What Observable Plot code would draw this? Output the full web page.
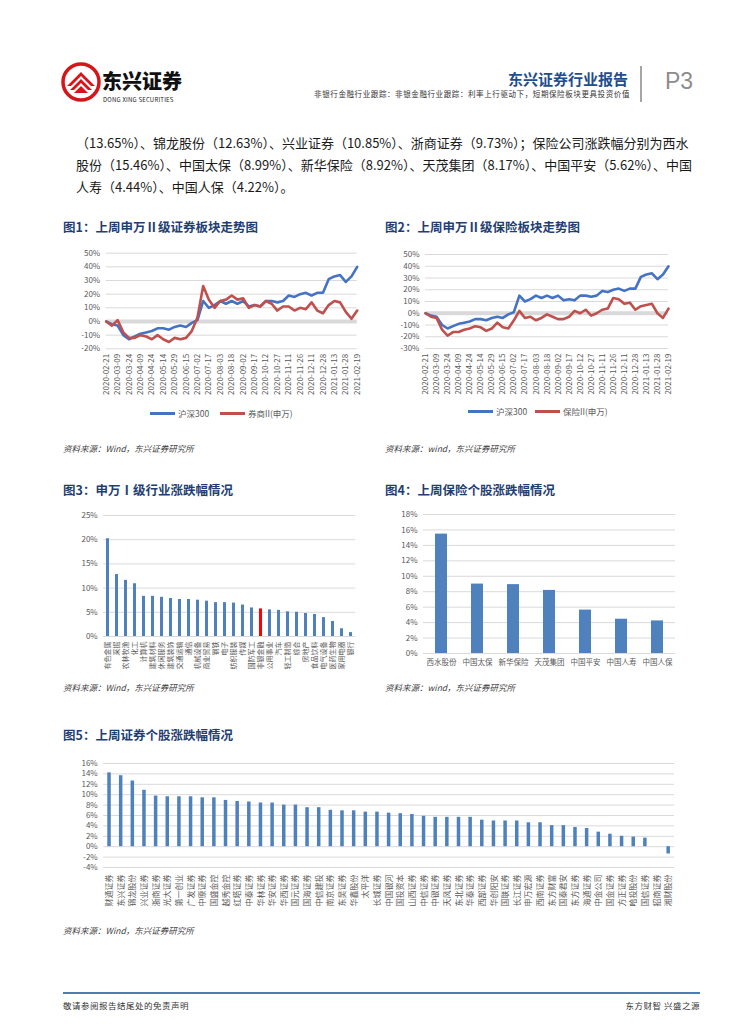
<!DOCTYPE html>
<html><head><meta charset="utf-8">
<script src="https://cdn.jsdelivr.net/npm/d3@7"></script>
<script src="https://cdn.jsdelivr.net/npm/@observablehq/plot@0.6"></script>
<style>
html,body{margin:0;padding:0;background:#fff;}
#page{position:relative;width:755px;height:1024px;overflow:hidden;font-family:"Noto Sans CJK SC","Noto Sans",sans-serif;}
.abs{position:absolute;white-space:nowrap;}
.ctitle{font-size:12.5px;font-weight:700;color:#1F3F73;}
.src{font-size:8.5px;font-style:italic;color:#404040;}
.body{font-size:13px;color:#1a1a1a;width:612px;left:76px;text-align:justify;text-align-last:justify;}
.leg{font-size:8.5px;color:#595959;display:flex;align-items:center;}
.leg span.l{display:inline-block;width:25px;height:3px;margin-right:3px;}
</style></head>
<body><div id="page"></div>
<script>
// ---------- data ----------
const dateLabels = ["2020-02-21","2020-03-09","2020-03-24","2020-04-09","2020-04-24","2020-05-14","2020-05-29","2020-06-15","2020-07-02","2020-07-17","2020-08-03","2020-08-18","2020-09-02","2020-09-17","2020-10-12","2020-10-27","2020-11-11","2020-11-26","2020-12-11","2020-12-28","2021-01-13","2021-01-28","2021-02-19"];
// readings every half label interval (5.5 trading days), in %
const hs300 = [0,-2,-3,-10,-13,-11,-9,-8,-7,-5,-5,-6,-4,-3,-4,-1,1,15,10,12,15,13,15,13,15,11,12,11,15,15,14,15,19,18,20,21,19,21,21,31,33,34,29,33,40];
const brokerII = [0,-3,1,-8,-12,-12,-10,-11,-13,-10,-13,-15,-12,-13,-12,-7,3,26,16,10,15,16,19,16,17,10,12,11,15,13,8,11,11,8,10,9,14,8,6,12,15,14,7,2,8];
const insuranceII = [0,-3,-4,-14,-19,-16,-16,-14,-13,-11,-12,-15,-13,-8,-12,-13,-6,2,-4,-3,-6,-4,-1,-3,-5,-5,-3,2,0,3,-2,0,3,4,13,12,8,9,3,6,7,8,0,-4,4];

const industries = ["有色金属","采掘","农林牧渔","化工","计算机","建筑材料","休闲服务","建筑装饰","交通运输","通信","机械设备","商业贸易","钢铁","电子","纺织服装","传媒","国防军工","非银金融","公用事业","汽车","轻工制造","综合","房地产","食品饮料","电气设备","医药生物","家用电器","银行"];
const industryChg = [20.2,12.8,11.6,10.9,8.3,8.3,8.1,7.85,7.65,7.65,7.5,7.3,7.0,7.0,6.9,6.5,5.9,5.7,5.5,5.4,5.1,5.0,4.75,4.55,3.9,3.1,1.6,0.8];

const insurers = ["西水股份","中国太保","新华保险","天茂集团","中国平安","中国人寿","中国人保"];
const insurerChg = [15.46,8.99,8.92,8.17,5.62,4.44,4.22];

const brokers = ["财通证券","东兴证券","锦龙股份","兴业证券","浙商证券","光大证券","第一创业","广发证券","中原证券","国盛金控","越秀金控","红塔证券","中泰证券","华林证券","华安证券","华西证券","国元证券","国海证券","中信建投","南京证券","东吴证券","华鑫股份","太平洋","长城证券","中国银河","国投资本","山西证券","中信证券","中银证券","天风证券","东北证券","华泰证券","西部证券","华创阳安","国联证券","长江证券","申万宏源","西南证券","东方财富","国泰君安","东方证券","海通证券","中金公司","国金证券","方正证券","哈投股份","国信证券","招商证券","湘财股份"];
const brokerChg = [14.2,13.65,12.63,10.85,9.73,9.6,9.6,9.6,9.4,9.4,8.9,8.7,8.6,8.4,8.4,8.0,8.0,7.5,7.5,7.0,6.9,6.9,6.65,6.65,6.45,6.35,6.2,5.85,5.65,5.65,5.65,5.65,5.1,4.95,4.95,4.95,4.6,4.6,4.05,4.05,3.7,3.5,2.8,2.4,2.0,1.85,1.65,0,-1.4];

// ---------- helpers ----------
const page = document.getElementById("page");
const FONT = '"Noto Sans CJK SC","Noto Sans",sans-serif';
const BLUE = "#4472C4", RED = "#C0504D", BAR = "#4F81BD", GRID = "#D9D9D9";
function put(node, left, top){ node.style.position="absolute"; node.style.left=left+"px"; node.style.top=top+"px"; page.appendChild(node); return node; }
function div(html, cls, left, top, extra){ const d=document.createElement("div"); d.className="abs "+(cls||""); d.innerHTML=html; if(extra) Object.assign(d.style, extra); return put(d,left,top); }
const pct = d => d + "%";
const range = (a,b,s) => d3.range(a, b + s/2, s);

// ---------- header ----------
div(`<svg width="40" height="40" viewBox="0 0 40 40">
<circle cx="20" cy="20" r="18" fill="none" stroke="#D7141A" stroke-width="3.5"/>
<path d="M6 24 L20 10 L34 24 L30 24 L20 14 L10 24 Z" fill="#D7141A"/>
<path d="M9 28 L20 17 L31 28 L27 28 L20 21 L13 28 Z" fill="#D7141A"/>
<path d="M13 31 L20 24 L27 31 Z" fill="#D7141A"/></svg>`, "", 61, 62);
div("东兴证券", "", 102, 70, {fontSize:"20px", lineHeight:"21px", fontWeight:"900", color:"#111"});
div("DONG XING SECURITIES", "", 103, 96, {fontSize:"6px", lineHeight:"7px", color:"#222", letterSpacing:"0.2px"});
div("东兴证券行业报告", "", 0, 68, {fontSize:"15px", fontWeight:"700", color:"#1F4E8C", width:"628px", textAlign:"right"});
div("非银行金融行业跟踪：非银金融行业跟踪：利率上行驱动下，短期保险板块更具投资价值", "", 0, 88, {fontSize:"7.5px", color:"#333", width:"630px", textAlign:"right", letterSpacing:"0.6px"});
div("", "", 640, 66, {width:"2px", height:"36px", background:"#A6A6A6"});
div("P3", "", 665, 68, {fontSize:"23px", color:"#8C8C8C", fontFamily:'"Liberation Sans",Arial,sans-serif'});

// ---------- body text ----------
div("（13.65%）、锦龙股份（12.63%）、兴业证券（10.85%）、浙商证券（9.73%）；保险公司涨跌幅分别为西水", "body", 76, 133);
div("股份（15.46%）、中国太保（8.99%）、新华保险（8.92%）、天茂集团（8.17%）、中国平安（5.62%）、中国", "body", 76, 155);
div("人寿（4.44%）、中国人保（4.22%）。", "", 76, 177, {fontSize:"13px", color:"#1a1a1a"});

// ---------- titles & sources ----------
div("图1：上周申万Ⅱ级证券板块走势图", "ctitle", 63, 217);
div("图2：上周申万Ⅱ级保险板块走势图", "ctitle", 385, 217);
div("资料来源：Wind，东兴证券研究所", "src", 63, 442);
div("资料来源：wind，东兴证券研究所", "src", 385, 442);
div("图3：申万Ⅰ级行业涨跌幅情况", "ctitle", 63, 480);
div("图4：上周保险个股涨跌幅情况", "ctitle", 385, 480);
div("资料来源：Wind，东兴证券研究所", "src", 63, 681);
div("资料来源：wind，东兴证券研究所", "src", 385, 681);
div("图5：上周证券个股涨跌幅情况", "ctitle", 63, 725);
div("资料来源：Wind，东兴证券研究所", "src", 63, 924);

// ---------- footer ----------
div("", "", 63, 992, {width:"637px", height:"2px", background:"#4F7BB5"});
div("敬请参阅报告结尾处的免责声明", "", 63, 999, {fontSize:"8.5px", color:"#333", letterSpacing:"0.5px"});
div("东方财智 兴盛之源", "", 0, 999, {fontSize:"8.5px", color:"#333", width:"700px", textAlign:"right", letterSpacing:"0.5px"});

// ---------- line charts ----------
function lineChart({series, yDomain, yStep, left, top, width, height, mL, mR, mT, mB, legend}){
  const rows = [];
  series.forEach(s => s.values.forEach((v,i) => rows.push({x: i*5.5, v, key: s.name})));
  const p = Plot.plot({
    width, height, marginLeft: mL, marginRight: mR, marginTop: mT, marginBottom: mB,
    style: {fontFamily: FONT, fontSize: "8px", color: "#595959", background: "transparent", overflow: "visible"},
    x: {domain: [0, 242], ticks: dateLabels.map((_, i) => i*11), tickFormat: d => dateLabels[Math.round(d/11)], tickRotate: -90, tickSize: 0, tickPadding: 5, label: null},
    y: {domain: yDomain, ticks: range(yDomain[0], yDomain[1], yStep), tickFormat: pct, tickSize: 0, tickPadding: 6, label: null},
    marks: [
      Plot.ruleY(range(yDomain[0], yDomain[1], yStep), {stroke: GRID, strokeWidth: 1}),
      Plot.ruleY([0], {stroke: GRID, strokeWidth: 4}),
      ...series.map(s => Plot.line(rows.filter(r => r.key === s.name), {x: "x", y: "v", stroke: s.color, strokeWidth: 2.6, curve: "linear"}))
    ]
  });
  put(p, left, top);
  legend.forEach(l => div(`<span class="l" style="background:${l.color}"></span>${l.name}`, "leg", l.x, l.y));
}

lineChart({series: [{name:"沪深300", values: hs300, color: BLUE}, {name:"券商II(申万)", values: brokerII, color: RED}],
  yDomain: [-20, 50], yStep: 10, left: 60, top: 245, width: 305, height: 160, mL: 45.7, mR: 8.3, mT: 7.7, mB: 56.7,
  legend: [{name:"沪深300", color: BLUE, x: 150, y: 407}, {name:"券商II(申万)", color: RED, x: 220, y: 407}]});

lineChart({series: [{name:"沪深300", values: hs300, color: BLUE}, {name:"保险II(申万)", values: insuranceII, color: RED}],
  yDomain: [-30, 50], yStep: 10, left: 380, top: 245, width: 300, height: 160, mL: 45, mR: 12, mT: 9, mB: 57,
  legend: [{name:"沪深300", color: BLUE, x: 468, y: 405}, {name:"保险II(申万)", color: RED, x: 535, y: 405}]});

// ---------- bar charts ----------
function barChart({cats, vals, yDomain, yStep, left, top, width, height, mL, mR, mT, mB, padIn, fontSize, rotate, highlight, tickPad}){
  const data = cats.map((c,i) => ({c, v: vals[i]}));
  const p = Plot.plot({
    width, height, marginLeft: mL, marginRight: mR, marginTop: mT, marginBottom: mB,
    style: {fontFamily: FONT, fontSize: "8px", color: "#595959", background: "transparent", overflow: "visible"},
    x: {type: "band", domain: cats, paddingInner: padIn, paddingOuter: padIn/2, tickSize: 0, tickPadding: tickPad, tickRotate: rotate, label: null},
    y: {domain: yDomain, ticks: range(yDomain[0], yDomain[1], yStep), tickFormat: pct, tickSize: 0, tickPadding: 6, label: null},
    marks: [
      Plot.ruleY(range(yDomain[0], yDomain[1], yStep), {stroke: GRID, strokeWidth: 1}),
      Plot.barY(data, {x: "c", y: "v", fill: d => d.c === highlight ? "#FF0000" : BAR})
    ]
  });
  p.querySelectorAll('[aria-label="x-axis tick label"] text').forEach(t => t.style.fontSize = fontSize);
  put(p, left, top);
}

barChart({cats: industries, vals: industryChg, yDomain: [0, 25], yStep: 5, left: 60, top: 505, width: 300, height: 170,
  mL: 43.2, mR: 4.8, mT: 10, mB: 39, padIn: 0.63, fontSize: "7px", rotate: -90, highlight: "非银金融", tickPad: 5});

barChart({cats: insurers, vals: insurerChg, yDomain: [0, 18], yStep: 2, left: 385, top: 505, width: 300, height: 175,
  mL: 38, mR: 10, mT: 9, mB: 27, padIn: 0.675, fontSize: "7.5px", rotate: 0, highlight: null, tickPad: 6});

barChart({cats: brokers, vals: brokerChg, yDomain: [-4, 16], yStep: 2, left: 60, top: 755, width: 630, height: 160,
  mL: 43.2, mR: 16, mT: 8, mB: 48, padIn: 0.7, fontSize: "8px", rotate: -90, highlight: null, tickPad: 7});
</script></body></html>
